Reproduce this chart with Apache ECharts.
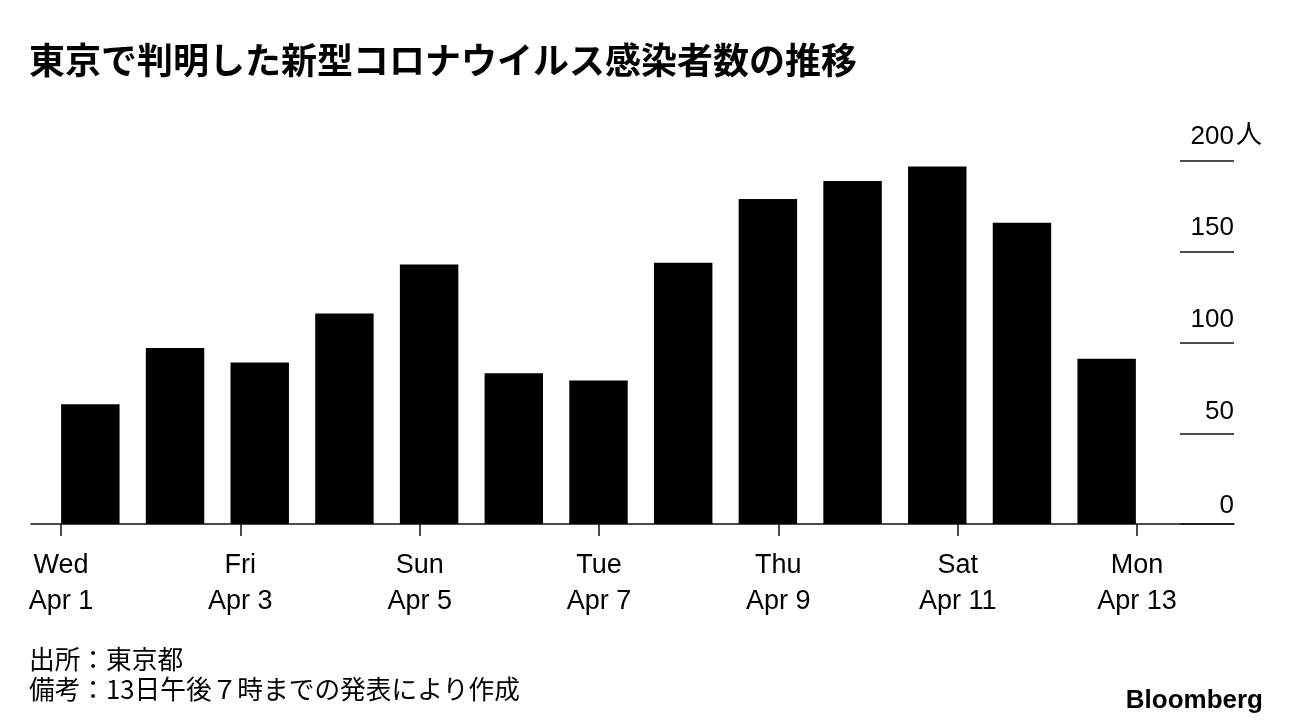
<!DOCTYPE html>
<html>
<head>
<meta charset="utf-8">
<script src="https://cdn.jsdelivr.net/npm/echarts@6/dist/echarts.min.js"></script>
<style>
html,body{margin:0;padding:0;background:#fff;}
#c{width:1292px;height:728px;}
</style>
</head>
<body>
<div id="c"></div>
<script>
const dates = ['Apr 1','Apr 2','Apr 3','Apr 4','Apr 5','Apr 6','Apr 7','Apr 8','Apr 9','Apr 10','Apr 11','Apr 12','Apr 13'];
const cases = [66, 97, 89, 116, 143, 83, 79, 144, 179, 189, 197, 166, 91];
const tickLabels = ['Wed\nApr 1','Fri\nApr 3','Sun\nApr 5','Tue\nApr 7','Thu\nApr 9','Sat\nApr 11','Mon\nApr 13'];
const yMin = 0, yMax = 200, yStep = 50;
const titleText = '東京で判明した新型コロナウイルス感染者数の推移';
const unitText = '人';
const sourceText = '出所：東京都';
const noteText = '備考：13日午後７時までの発表により作成';
const brandText = 'Bloomberg';

const LAT = 'Liberation Sans, Arial, Helvetica, sans-serif';
const CJK = 'Noto Sans CJK JP, sans-serif';

const chart = echarts.init(document.getElementById('c'), null, {renderer:'canvas'});
const gTop = 161, gHeight = 363;
const yLabelStyle = function (pad) {
  return {fontFamily: LAT, fontSize: 26, lineHeight: 26, color: '#000', padding: [0, 0, pad, 0]};
};
chart.setOption({
  animation: false,
  backgroundColor: '#fff',
  title: {
    text: titleText, left: 29, top: 42, padding: 0,
    textStyle: {fontFamily: CJK, fontSize: 36, fontWeight: 'bold', color: '#000'}
  },
  grid: [
    {left: 48, width: 1101, top: gTop, height: gHeight},
    {left: 61, width: 1076, top: gTop, height: gHeight},
    {left: 31, width: 1203, top: gTop, height: gHeight},
    {left: 1180, width: 54, top: gTop, height: gHeight}
  ],
  xAxis: [
    {gridIndex: 0, type: 'category', data: dates, show: false},
    {gridIndex: 1, type: 'category', data: tickLabels, boundaryGap: false,
     axisLine: {show: false},
     axisTick: {show: true, length: 12, interval: 0, lineStyle: {color: '#111', width: 1.5}},
     axisLabel: {interval: 0, margin: 24, fontFamily: LAT, fontSize: 27, lineHeight: 36, color: '#000'},
     splitLine: {show: false}},
    {gridIndex: 2, type: 'value', min: 0, max: 1,
     axisLine: {show: true, lineStyle: {color: '#111', width: 1.5}},
     axisTick: {show: false}, axisLabel: {show: false}, splitLine: {show: false}},
    {gridIndex: 3, type: 'value', show: false}
  ],
  yAxis: [
    {gridIndex: 0, type: 'value', min: yMin, max: yMax, show: false},
    {gridIndex: 1, type: 'value', min: yMin, max: yMax, show: false},
    {gridIndex: 2, type: 'value', min: yMin, max: yMax, show: false},
    {gridIndex: 3, type: 'value', min: yMin, max: yMax, interval: yStep, position: 'right',
     axisLine: {show: false}, axisTick: {show: false},
     splitLine: {show: true, lineStyle: {color: '#111', width: 1.5}},
     axisLabel: {
       inside: true, margin: 0, align: 'right', verticalAlign: 'bottom',
       formatter: function (v) { return '{v' + v + '|' + v + '}'; },
       rich: {
         v0: yLabelStyle(11), v50: yLabelStyle(16), v100: yLabelStyle(19),
         v150: yLabelStyle(21), v200: yLabelStyle(23)
       }
     }}
  ],
  series: [{
    type: 'bar', xAxisIndex: 0, yAxisIndex: 0, data: cases,
    barCategoryGap: '31%',
    itemStyle: {color: '#000'}
  }],
  graphic: [
    {type: 'text', x: 1236, y: 133, style: {text: unitText, fontFamily: CJK, fontSize: 26, fill: '#000', verticalAlign: 'middle', align: 'left'}},
    {type: 'text', x: 29, y: 659, style: {text: sourceText, fontFamily: CJK, fontSize: 25.7, fill: '#000', verticalAlign: 'middle'}},
    {type: 'text', x: 29, y: 689, style: {text: noteText, fontFamily: CJK, fontSize: 25.7, fill: '#000', verticalAlign: 'middle'}},
    {type: 'text', x: 1263, y: 701, style: {text: brandText, fontFamily: LAT, fontSize: 26, fontWeight: 'bold', fill: '#000', align: 'right', verticalAlign: 'middle'}}
  ]
});
</script>
</body>
</html>
